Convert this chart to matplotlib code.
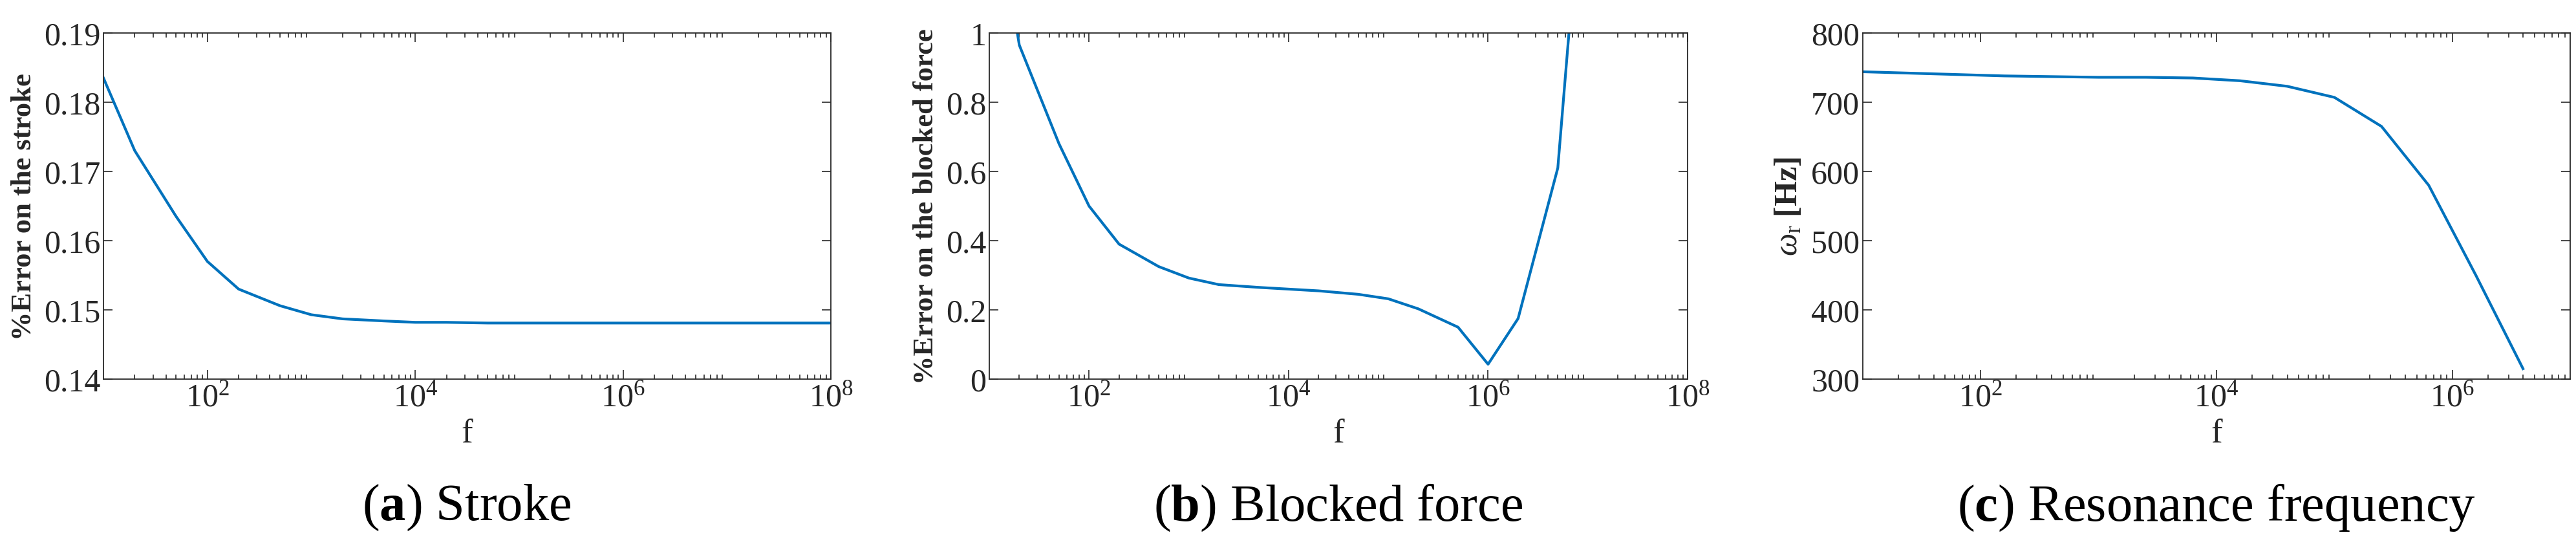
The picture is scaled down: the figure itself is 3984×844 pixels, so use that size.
import matplotlib
matplotlib.use("Agg")
import matplotlib.pyplot as plt
import numpy as np
from matplotlib.ticker import LogLocator, NullFormatter, FixedLocator, FuncFormatter

plt.rcParams['font.family'] = ['Liberation Serif', 'DejaVu Serif']
plt.rcParams['mathtext.fontset'] = 'custom'
plt.rcParams['mathtext.rm'] = 'Liberation Serif'
plt.rcParams['mathtext.it'] = 'Liberation Serif:italic'
plt.rcParams['mathtext.bf'] = 'Liberation Serif:bold'

f_ab = [10, 20, 50, 100, 200, 500, 1e3, 2e3, 5e3, 1e4, 2e4, 5e4, 1e5, 2e5, 5e5, 1e6, 2e6, 5e6, 1e7, 2e7, 5e7, 1e8]
stroke = [0.1835, 0.1730, 0.1635, 0.1570, 0.1530, 0.1506, 0.1493, 0.1487, 0.1484, 0.1482, 0.1482, 0.1481,
          0.1481, 0.1481, 0.1481, 0.1481, 0.1481, 0.1481, 0.1481, 0.1481, 0.1481, 0.1481]
f_b = [10, 20, 50, 100, 200, 500, 1e3, 2e3, 5e3, 1e4, 2e4, 5e4, 1e5, 2e5, 5e5, 1e6, 2e6, 5e6, 1e7]
blocked = [1.5, 0.965, 0.68, 0.50, 0.39, 0.325, 0.292, 0.273, 0.265, 0.260, 0.255, 0.245, 0.232, 0.203,
           0.150, 0.043, 0.175, 0.61, 1.66]
f_exp_c = [1.0, 1.4, 1.8, 2.2, 2.6, 3.0, 3.4, 3.8, 4.2, 4.6, 5.0, 5.4, 5.8, 6.2, 6.6]
omega = [744, 742, 740, 738, 737, 736, 736, 735, 731, 723, 707, 665, 580, 450, 315]

W, H = 3984, 845
fig = plt.figure(figsize=(W / 100, H / 100), dpi=100)
blue = '#0072BD'

def axes_px(x0, x1, y0=52, y1=587):
    return fig.add_axes([x0 / W, 1 - y1 / H, (x1 - x0) / W, (y1 - y0) / H])

logfmt = FuncFormatter(lambda v, p: r'$\mathrm{10^{%d}}$' % int(round(np.log10(v))))

def style(ax, xmax):
    ax.set_xscale('log')
    ax.tick_params(which='both', direction='in', top=True, right=True, labelsize=36, width=1.2, colors='#262626')
    ax.tick_params(which='major', length=10)
    ax.tick_params(which='minor', length=5)
    ax.xaxis.set_major_locator(FixedLocator([1e2, 1e4, 1e6, 1e8][: {8: 4, 7: 3}[xmax]]))
    ax.xaxis.set_major_formatter(logfmt)
    ax.xaxis.set_minor_locator(LogLocator(base=10, subs=np.arange(2, 10), numticks=20))
    ax.xaxis.set_minor_formatter(NullFormatter())
    for s in ax.spines.values():
        s.set_linewidth(1.3)
        s.set_color('#262626')
    ax.set_xlabel('f', fontsize=38, labelpad=6, color='#262626')

ax1 = axes_px(160, 1285)
ax1.plot(f_ab, stroke, color=blue, lw=3)
ax1.set_xlim(10, 1e8)
ax1.set_ylim(0.14, 0.19)
ax1.set_yticks([0.14, 0.15, 0.16, 0.17, 0.18, 0.19])
style(ax1, 8)
ax1.set_ylabel('%Error on the stroke', fontsize=32, fontweight='bold', labelpad=8, color='#262626')

ax2 = axes_px(1530, 2610)
ax2.plot(f_b, blocked, color=blue, lw=3)
ax2.set_xlim(10, 1e8)
ax2.set_ylim(0, 1)
ax2.set_yticks([0, 0.2, 0.4, 0.6, 0.8, 1])
ax2.set_yticklabels(['0', '0.2', '0.4', '0.6', '0.8', '1'])
style(ax2, 8)
ax2.set_ylabel('%Error on the blocked force', fontsize=32, fontweight='bold', labelpad=8, color='#262626')

ax3 = axes_px(2881, 3975)
ax3.plot(10 ** np.array(f_exp_c), omega, color=blue, lw=3)
ax3.set_xlim(10, 1e7)
ax3.set_ylim(300, 800)
ax3.set_yticks([300, 400, 500, 600, 700, 800])
style(ax3, 7)
ax3.set_ylabel(r'$\it{\omega}_{\mathrm{r}}$ [Hz]', fontsize=36, fontweight='bold', labelpad=8, color='#262626')

titles = [(722, 'a', ' Stroke'), (2070, 'b', ' Blocked force'), (3428, 'c', ' Resonance frequency')]
for xc, b, c in titles:
    fig.text(xc / W, 1 - 785 / H, '(' + r'$\mathbf{' + b + r'}$' + ')' + c, fontsize=58,
             ha='center', va='center')

fig.savefig('out.png', dpi=100)
